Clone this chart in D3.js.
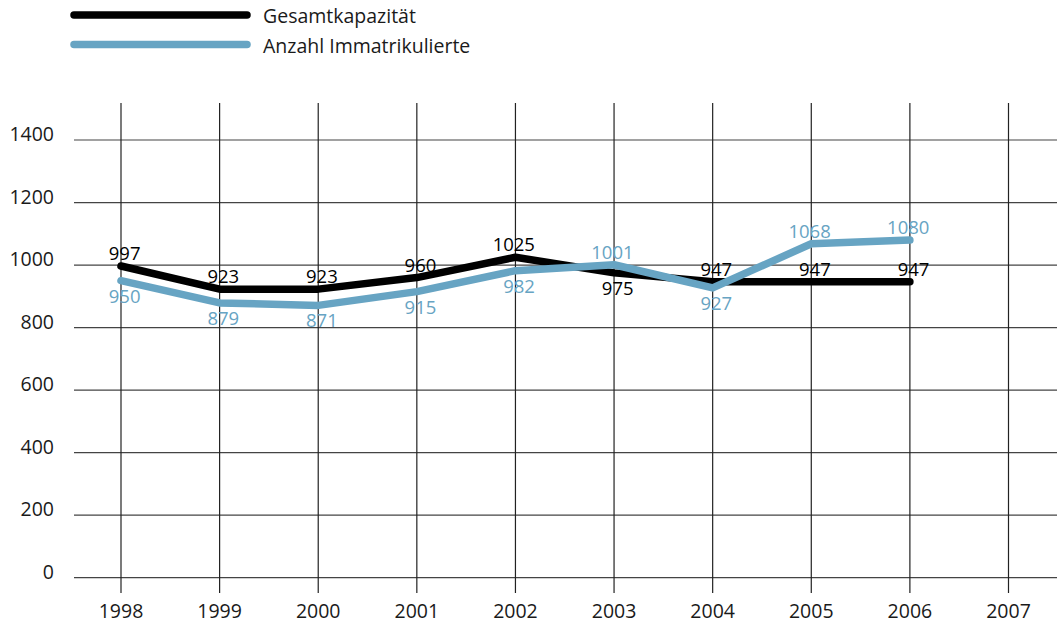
<!DOCTYPE html>
<html>
<head>
<meta charset="utf-8">
<script src="https://cdn.jsdelivr.net/npm/d3@7"></script>
<style>
  body { margin: 0; background: #fff; }
  text { font-family: "Open Sans", "Noto Sans", sans-serif; }
</style>
</head>
<body>
<script>
const years = [1998, 1999, 2000, 2001, 2002, 2003, 2004, 2005, 2006, 2007];
const gesamtkapazitaet = [997, 923, 923, 960, 1025, 975, 947, 947, 947];
const immatrikulierte = [950, 879, 871, 915, 982, 1001, 927, 1068, 1080];
const yTicks = [0, 200, 400, 600, 800, 1000, 1200, 1400];
const seriesNames = ["Gesamtkapazität", "Anzahl Immatrikulierte"];
// which labels deviate from the default side
const capLabelsBelow = [2003];
const immLabelsAbove = [2003, 2005, 2006];

const w = 1064, h = 624;
const black = "#000", blue = "#67a4c3";

const svg = d3.select("body").append("svg")
    .attr("width", w)
    .attr("height", h);

const x = d3.scaleLinear().domain([1998, 2007]).range([121, 1008.5]);
const y = d3.scaleLinear().domain([0, 1400]).range([577.7, 140]);

// horizontal grid
svg.append("g").selectAll("line").data(yTicks).join("line")
    .attr("x1", 74).attr("x2", 1057)
    .attr("y1", d => y(d)).attr("y2", d => y(d))
    .attr("stroke", "#444").attr("stroke-width", 1.2);

// vertical grid
svg.append("g").selectAll("line").data(years).join("line")
    .attr("x1", d => x(d)).attr("x2", d => x(d))
    .attr("y1", 103).attr("y2", 593)
    .attr("stroke", "#222").attr("stroke-width", 1.2);

// y labels
svg.append("g").selectAll("text").data(yTicks).join("text")
    .attr("x", 54).attr("y", d => y(d) + 1)
    .attr("text-anchor", "end")
    .attr("font-size", 19.5).attr("fill", "#1a1a1a")
    .text(d => d);

// x labels
svg.append("g").selectAll("text").data(years).join("text")
    .attr("x", d => x(d)).attr("y", 618)
    .attr("text-anchor", "middle")
    .attr("font-size", 19.5).attr("fill", "#1a1a1a")
    .text(d => d);

const line = d3.line()
    .x((d, i) => x(years[i]))
    .y(d => y(d));

svg.append("path").datum(gesamtkapazitaet)
    .attr("d", line).attr("fill", "none")
    .attr("stroke", black).attr("stroke-width", 7.5)
    .attr("stroke-linecap", "round").attr("stroke-linejoin", "round");

svg.append("path").datum(immatrikulierte)
    .attr("d", line).attr("fill", "none")
    .attr("stroke", blue).attr("stroke-width", 7.5)
    .attr("stroke-linecap", "round").attr("stroke-linejoin", "round");

function addLabels(values, color, isAbove) {
    svg.append("g").selectAll("text").data(values).join("text")
        .attr("x", (d, i) => x(years[i]) + 19.5)
        .attr("y", (d, i) => isAbove(years[i]) ? y(d) - 6 : y(d) + 22)
        .attr("text-anchor", "end")
        .attr("font-size", 18.5).attr("fill", color)
        .text(d => d);
}
addLabels(gesamtkapazitaet, black, yr => !capLabelsBelow.includes(yr));
addLabels(immatrikulierte, blue, yr => immLabelsAbove.includes(yr));

// legend
const legend = svg.append("g");
[black, blue].forEach((c, i) => {
    legend.append("line")
        .attr("x1", 74).attr("x2", 247)
        .attr("y1", 15 + i * 29.5).attr("y2", 15 + i * 29.5)
        .attr("stroke", c).attr("stroke-width", 7.5)
        .attr("stroke-linecap", "round");
    legend.append("text")
        .attr("x", 263).attr("y", 23 + i * 29.5)
        .attr("font-size", 19.5).attr("fill", "#1a1a1a")
        .text(seriesNames[i]);
});
</script>
</body>
</html>
